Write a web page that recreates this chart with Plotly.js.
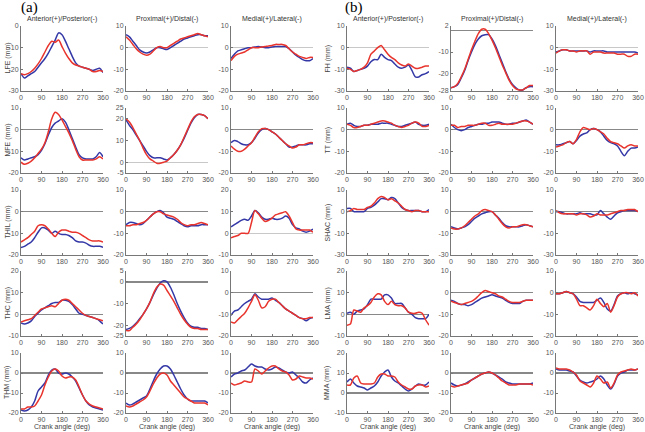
<!DOCTYPE html>
<html><head><meta charset="utf-8">
<script src="https://cdn.plot.ly/plotly-3.0.1.min.js"></script>
<style>html,body{margin:0;padding:0;background:#fff}#chart{width:645px;height:432px}</style>
</head><body><div id="chart"></div>
<script>
const angle = [0,15,30,45,60,75,90,105,120,135,150,165,180,195,210,225,240,255,270,285,300,315,330,345,360];
const xTicks = [0,90,180,270,360];
const dirTitles = ["Anterior(+)/Posterior(-)","Proximal(+)/Distal(-)","Medial(+)/Lateral(-)"];
const rowLabelsA = ["LFE (mm)","MFE (mm)","THIL (mm)","THC (mm)","THM (mm)"];
const rowLabelsB = ["FH (mm)","TT (mm)","SHAC (mm)","LMA (mm)","MMA (mm)"];
const xTitle = "Crank angle (deg)";

// (a) LFE
const LFE_AP_blue = [-22,-24,-23,-22,-21,-19,-17,-15,-12.5,-9.5,-6.5,-3.2,-4,-7,-10.5,-14,-17,-18.5,-19,-19.5,-20,-20.5,-20,-19.5,-21.5];
const LFE_AP_red  = [-22,-22.5,-22,-21,-19.5,-17.5,-15,-12,-9,-7,-7.5,-6.5,-9.5,-12.5,-15,-17,-18,-18.5,-19,-19.5,-20,-21,-21,-20.5,-21];
const LFE_PD_blue = [6,5,3,1,-1,-2,-2.5,-2,-1,0,0,-0.5,-0.8,0,1,2,3,4,4.5,5,5.5,6,6,5.5,5.5];
const LFE_PD_red  = [5,3.5,1.5,-0.5,-2,-3,-3.5,-3,-1.5,0,0.5,0,0,1,2,3,4,4.5,5,5.5,6,6.5,6,5.5,5];
const LFE_ML_blue = [-5,-3,-1.5,-1,-0.5,0,0,0.3,0.5,0.3,0,0,0.3,0.5,0.5,0.5,0.5,-0.5,-2,-3.5,-4.5,-5.5,-6,-6,-5];
const LFE_ML_red  = [-6,-4,-3,-2.5,-2,-1,0,0,0,0.3,0.5,0.8,1,1.5,1.5,1.5,1,-0.5,-2,-3,-4,-4.5,-5,-4.5,-4.5];
// (a) MFE
const MFE_AP_blue = [-13,-14,-13.5,-13,-12.5,-11.5,-9.5,-6.5,-2.5,1,3,4,5,3.5,0,-4,-8,-11.5,-13,-13.5,-13.5,-13.5,-12.5,-10.5,-12.5];
const MFE_AP_red  = [-15,-16,-15.5,-14.5,-13,-11,-9,-6,-1,5,8,7,4.5,1.5,-1.5,-5,-9,-12.5,-14,-14,-14,-14,-13.5,-12.5,-13.5];
const MFE_PD_blue = [19.5,17,15,12.5,10,7.5,5,3,2,2,2,1.5,1,2,3.5,5.5,8,11,14.5,18,20.5,22,22,21.5,20];
const MFE_PD_red  = [20,18.5,16,13,10,6.5,3.5,1.5,0.5,-0.5,-0.5,0,0.5,2,3.5,5.5,8,11.5,15,18.5,21,22,22,21.5,20];
const MFE_ML_blue = [-6,-5,-5.5,-6.5,-7,-7,-6,-4,-1.5,0,0.5,0,-1,-2,-3.5,-5,-6.5,-8,-8,-7.5,-7,-7,-7,-6.5,-6.5];
const MFE_ML_red  = [-7.5,-9,-10,-10,-9,-7.5,-6,-3.5,-1,0.5,0.5,0,-1,-2,-3.5,-5,-6.5,-7.5,-8.5,-8,-7,-7,-6.5,-6,-6];
// (a) THIL
const THIL_AP_blue = [-16.5,-16,-15,-14,-12,-9.5,-7.5,-7.5,-8.5,-10,-9,-10,-10.5,-10.5,-11,-12,-13.5,-14,-14,-14.5,-15.5,-16,-16,-16,-16.5];
const THIL_AP_red  = [-14,-13,-12,-10.5,-9,-6.5,-6,-6.5,-8,-10,-11.5,-9.5,-8.5,-8.5,-9,-9.5,-9.5,-10,-11,-12,-13,-13.5,-13.5,-13.5,-14];
const THIL_PD_blue = [-6,-5,-5,-5.5,-6,-5.5,-4,-2.5,-1,0,0.5,-0.5,-2.5,-3,-3.5,-4.5,-5.5,-6.5,-7,-6.5,-6.5,-6.5,-6,-6,-6];
const THIL_PD_red  = [-6.5,-6.5,-6,-6,-5.5,-5,-4,-2.5,-1,0,0,-1,-1.5,-2,-2.5,-3.5,-5,-6,-6.5,-6,-6,-5.5,-5,-5.5,-6];
const THIL_ML_blue = [3,4,5,6,6.5,6,8,10.5,9.5,7.5,6.5,6.5,7,6.5,6.5,7,8,7,4,2.5,2,1,0.5,1,2];
const THIL_ML_red  = [-2,-1.5,-1,0,0,0,5,10.5,9,7,5.5,6,7,8.5,9,9.5,10,8,5,2,1.5,1.5,1.5,1.5,0.5];
// (a) THC
const THC_AP_blue = [-4,-4.5,-4,-3,-1,0.5,2,3,4,5,5.5,5.5,6.5,6.5,6,4.5,2.5,0.5,0,-0.5,-1,-1.5,-2,-3,-4.5];
const THC_AP_red  = [-3.5,-3,-2.5,-2,-0.5,1,2.5,3,3.5,4,3.5,5,6.5,7,6.5,5,3.5,2,0.5,-0.5,-1,-1.5,-2,-2.5,-3];
const THC_PD_blue = [-22,-21.5,-20.5,-19,-17,-15,-12.5,-9.5,-6,-3,-0.5,0.5,0,-2.5,-6,-10,-13.5,-16.5,-19,-20.5,-21,-21,-21.5,-21.5,-22];
const THC_PD_red  = [-22.5,-22.5,-21,-19.5,-17.5,-15,-12.5,-9.5,-5.5,-2.5,-1,-1.5,-4,-6.5,-9,-12,-15,-17.5,-19.5,-21,-21.5,-21.5,-22,-22,-22];
const THC_ML_blue = [-10.5,-8.5,-8,-6.5,-5,-4,-3,-0.5,-2,-3,-3,-3,-2.5,-3.5,-4.5,-6,-7.5,-8.5,-9.5,-10.5,-11.5,-12,-13,-12,-11.5];
const THC_ML_red  = [-13.5,-14,-12.5,-11,-9.5,-7,-4,-1,-3.5,-7,-6.5,-4,-3,-3,-4.5,-6,-7.5,-8.5,-9.5,-10.5,-11.5,-12,-12,-11.5,-11.5];
// (a) THM
const THM_AP_blue = [-18.5,-19,-18.5,-17,-14,-9,-7,-5,-1,1.5,2,0,-0.5,0,-0.5,-2,-4,-7.5,-11,-14,-16,-17,-17.5,-18,-18.5];
const THM_AP_red  = [-18,-18,-17,-17,-16.5,-14,-11,-6,-2,1,2,1,-1.5,-2.5,-2,-2,-3.5,-7,-11,-14,-15.5,-16.5,-17,-17.5,-18];
const THM_PD_blue = [-15,-16,-15.5,-14.5,-13.5,-12.5,-11.5,-8,-4,-0.5,2,3.5,3.5,2,-1,-4.5,-8,-11,-13,-14,-14,-14,-14,-14,-15];
const THM_PD_red  = [-16.5,-17,-16.5,-15.5,-14.5,-13.5,-12,-9,-5.5,-2.5,-0.5,0,-1,-4,-6,-8,-10,-12,-13,-14,-15,-15,-15,-15,-16];
const THM_ML_blue = [-2,-0.5,0,1,1.5,3,4.5,3.5,3,3,2,1.5,2,3,2.5,1.5,0.5,0,0.5,-1,-2.5,-4.5,-5,-3.5,-2.5];
const THM_ML_red  = [-5,-6,-5.5,-5,-4,-4.5,-4.5,2,1,-0.5,1,2.5,3.5,3.5,2,1,0.5,-1,-3.5,-3,-1.5,-2,-2.5,-2.5,-3];
// (b) FH
const FH_AP_blue = [-9,-9.5,-11,-10.5,-10,-9.5,-8.5,-6.5,-5.5,-5.5,-3,-4.5,-5.5,-6,-7.5,-9,-9.5,-9,-8,-10.5,-13.5,-13.5,-12.5,-12,-11];
const FH_AP_red  = [-9.5,-10,-11,-10.5,-10,-9,-7,-3,-1.5,0,1,-1,-3,-4.5,-5.5,-7,-8,-8.5,-7.5,-8.5,-9.5,-9.5,-9,-8.5,-8.5];
const FH_PD_blue = [-26.5,-26,-25,-22,-18.5,-14,-10,-6.5,-4,-2.5,-2,-2,-4,-7,-11,-15,-19,-22.5,-25,-26.5,-27.5,-27.5,-26.5,-26,-26];
const FH_PD_red  = [-26.5,-26,-24.5,-21.5,-18,-13.5,-9,-5,-1.5,0.5,0.5,-1.5,-4.5,-8,-12,-16,-19.5,-23,-25.5,-27,-27.5,-27.5,-26.5,-25.5,-25.5];
const FH_ML_blue = [-2,-1.5,-1,-1,-1.5,-1.5,-1.5,-1.5,-1.5,-1.5,-2,-1.5,-1.5,-1.5,-1.5,-2,-2,-2,-2,-2,-2,-2,-2,-2,-2.5];
const FH_ML_red  = [-2.5,-1.5,-1,-1,-1.5,-1.5,-2,-1.5,-1.5,-1.5,-3,-2,-2,-2,-2.5,-2.5,-2.5,-2.5,-3,-3,-3,-4,-4,-3,-3];
// (b) TT
const TT_AP_blue = [2.5,3,2,1.5,1.5,2,2,2.5,2.5,2.5,3,3,3,2.5,2,1.5,1.5,2,2.5,3,3.5,2.5,2,2,2.5];
const TT_AP_red  = [2.5,2,1,1,1.5,2,2,2.5,3,3.5,4,4,3.5,3,2,1.5,1,1.5,2,3,3.5,3,1.5,1.5,2];
const TT_PD_blue = [2.5,1,0,-0.5,0,1,1.5,2,2.5,2.5,3,3,3.5,3.5,3.5,3,2.5,2.5,3,3,3.5,4,4.5,3.5,2.5];
const TT_PD_red  = [2,2,1,1.5,1.5,2,2,2,2.5,3,3,2,2,2.5,3,2.5,2.5,2.5,2.5,3,3.5,4,4,3.5,2.5];
const TT_ML_blue = [-7,-7,-6.5,-6,-5.5,-6.5,-5,-3,-2,-1.5,0,0.5,0,-1,-3,-5,-6,-6.5,-7.5,-10,-12,-10,-8.5,-8.5,-8];
const TT_ML_red  = [-8,-7.5,-7,-6,-5.5,-6.5,-4.5,-1,1,0.5,0,0.5,0,-1,-2,-4,-5.5,-6,-6.5,-7.5,-8.5,-7.5,-7,-7.5,-7.5];
// (b) SHAC
const SHAC_AP_blue = [1.5,1.5,0,0,0,0,1.5,2,3,4.5,6,6,5.5,6.5,6,4,2,1,0.5,0.5,0.5,0.5,0,0,1];
const SHAC_AP_red  = [0,0.5,1.5,1,1,1,2,2.5,4,6,7,6.5,5.5,6,5,4,2.5,1,0.5,0,0.5,0.5,0,0,0];
const SHAC_PD_blue = [-7,-7.5,-8,-7.5,-7,-6,-4.5,-3,-2,-1,-0.5,0,0,-1.5,-3,-5,-6.5,-7,-7,-7,-7,-6.5,-6,-6.5,-7];
const SHAC_PD_red  = [-7.5,-8,-8,-7.5,-6.5,-5,-3.5,-2,-1,0.5,1,0.5,0,-1.5,-3.5,-5.5,-7,-7.5,-7,-7,-6.5,-6,-6,-6.5,-7];
const SHAC_ML_blue = [0,0,-0.5,-1,-1,-1,-1,-0.5,-1,-1,-1,-1.5,-1.5,0.5,-1,-2.5,-3.5,-2,-0.5,0,0.5,0.5,0.5,0.5,0];
const SHAC_ML_red  = [0.5,-0.5,-1,-1,-1,-1,-1.5,-1,-1,-1.5,-2.5,-2,-1,-1.5,-1.5,-1.5,-1,-0.5,0,0.5,0.5,1,1,1,0];
// (b) LMA
const LMA_AP_blue = [0.5,1,0,1.5,2,2.5,4.5,7,7,7,7,9,9,7.5,5,5,5,3,1,0,-1.5,-2,-2,-2,0];
const LMA_AP_red  = [-5,-4.5,2,1.5,1,3,4,5.5,8,9.5,9,6,4.5,6,4.5,4,4,3,1,0.5,0.5,1,0.5,-2.5,-5];
const LMA_PD_blue = [-3.5,-4,-5,-5.5,-5.5,-6,-5.5,-4.5,-3.5,-2.5,-2,-1.5,-1,-1.5,-2,-2.5,-3.5,-4.5,-5,-5,-5,-4,-3.5,-3.5,-3.5];
const LMA_PD_red  = [-4,-4.5,-5,-5.5,-5,-4.5,-4,-3,-1.5,0,1,0.5,0,-0.5,-1.5,-2,-3,-4,-4.5,-4.5,-4.5,-4,-3.5,-3.5,-3.5];
const LMA_ML_blue = [-0.5,-0.5,0,0.5,0,-0.5,-2,-4,-4.5,-4.5,-4.5,-4.5,-3.5,-2.5,-4.5,-7.5,-8.5,-5.5,-1.5,-0.5,0,-0.5,0,-0.5,-1];
const LMA_ML_red  = [-0.5,-0.5,0,0.5,0,-0.5,-3,-6,-6,-7,-8,-6,-3,-5,-6.5,-5,-9,-6,-2,-0.5,0,0,-0.5,0,-1.5];
// (b) MMA
const MMA_AP_blue = [5.5,7,5,3.5,3,2.5,1.5,2.5,3.5,5.5,8.5,10.5,11.5,8,6,5,3.5,2,1,2,3.5,4.5,4,4,5.5];
const MMA_AP_red  = [4,4,7.5,8.5,5,4.5,4.5,4.5,5,8,9.5,9.5,8.5,8.5,8,5.5,4,3,2,2,3.5,4,4,3,3.5];
const MMA_PD_blue = [-5,-6,-6.5,-6,-5.5,-4.5,-3.5,-2.5,-1.5,-0.5,0,0.5,0,-1,-2,-3,-4.5,-5,-5.5,-5.5,-5.5,-5.5,-5.5,-5.5,-5];
const MMA_PD_red  = [-6.5,-7,-6.5,-6,-5.5,-5,-3.5,-2.5,-1.5,-0.5,0,0.5,0,-1,-2.5,-4,-5,-6,-6,-6,-5.5,-5.5,-5.5,-5.5,-6];
const MMA_ML_blue = [2,1.5,1.5,1.5,1,0.5,-1.5,-3.5,-4.5,-5,-4.5,-4,-3,-1.5,-3,-6,-8,-5.5,-1.5,0,0.5,1.5,1.5,1.5,2];
const MMA_ML_red  = [2.5,2,2,2,1.5,0.5,-1,-4,-5,-6,-7,-5,-1.5,-3,-5,-4.5,-7.5,-5,-1,0.5,1,1.5,2,1.5,2];

const std = [-20,-10,0,10];
const stdLabels = ["-20","-10","0","10"];
const altLabels = ["-30","-10","0","10"];   // bottom label printed as -30 in some (b) panels
const panels = [
  [LFE_AP_blue,LFE_AP_red,[-30,0],[-30,-20,-10,0],'none'],
  [LFE_PD_blue,LFE_PD_red,[-20,10],std,'light'],
  [LFE_ML_blue,LFE_ML_red,[-20,10],std,'light'],
  [FH_AP_blue,FH_AP_red,[-20,10],std,'light',altLabels],
  [FH_PD_blue,FH_PD_red,[-28,2],[-28,-20,-10,2],'dark'],
  [FH_ML_blue,FH_ML_red,[-20,10],std,'light',altLabels],
  [MFE_AP_blue,MFE_AP_red,[-20,10],std,'dark'],
  [MFE_PD_blue,MFE_PD_red,[-5,25],[-5,0,10,20,25],'light'],
  [MFE_ML_blue,MFE_ML_red,[-20,10],std,'dark'],
  [TT_AP_blue,TT_AP_red,[-20,10],std,'dark'],
  [TT_PD_blue,TT_PD_red,[-20,10],std,'dark'],
  [TT_ML_blue,TT_ML_red,[-20,10],std,'dark'],
  [THIL_AP_blue,THIL_AP_red,[-20,10],std,'dark'],
  [THIL_PD_blue,THIL_PD_red,[-20,10],std,'dark'],
  [THIL_ML_blue,THIL_ML_red,[-10,20],[-10,0,10,20],'light'],
  [SHAC_AP_blue,SHAC_AP_red,[-20,10],std,'dark',altLabels],
  [SHAC_PD_blue,SHAC_PD_red,[-20,10],std,'dark',altLabels],
  [SHAC_ML_blue,SHAC_ML_red,[-20,10],std,'dark',altLabels],
  [THC_AP_blue,THC_AP_red,[-10,20],[-10,0,10,20],'dark'],
  [THC_PD_blue,THC_PD_red,[-25,5],[-25,-20,-10,0,5],'dark'],
  [THC_ML_blue,THC_ML_red,[-20,10],std,'dark'],
  [LMA_AP_blue,LMA_AP_red,[-10,20],[-10,0,10,20],'dark'],
  [LMA_PD_blue,LMA_PD_red,[-20,10],std,'dark'],
  [LMA_ML_blue,LMA_ML_red,[-20,10],std,'dark'],
  [THM_AP_blue,THM_AP_red,[-20,10],std,'dark'],
  [THM_PD_blue,THM_PD_red,[-20,10],std,'dark'],
  [THM_ML_blue,THM_ML_red,[-20,10],std,'dark'],
  [MMA_AP_blue,MMA_AP_red,[-10,20],[-10,0,10,20],'dark'],
  [MMA_PD_blue,MMA_PD_red,[-20,10],std,'dark'],
  [MMA_ML_blue,MMA_ML_red,[-20,10],std,'dark']
];

const W = 645, H = 432;
const colLeft = [21,126,231,347,451,556];
const pw = 82;
const rowTop = [26,108,190,271,353];
const rowH = [65,65,65,65,60];
const BLUE = '#3438a6', RED = '#e8342c';
const tickFont = {family:'Liberation Sans, Arial, sans-serif', size:7, color:'#555'};

const traces = [];
const layout = {width:W,height:H,margin:{l:0,r:0,t:0,b:0},paper_bgcolor:'#fff',plot_bgcolor:'#fff',showlegend:false,annotations:[]};

panels.forEach((p,i)=>{
  const k = i+1, r = Math.floor(i/6), c = i%6;
  const xs = k===1?'':String(k);
  const x0 = colLeft[c]/W, x1 = (colLeft[c]+pw)/W;
  const y1 = 1 - rowTop[r]/H, y0 = 1 - (rowTop[r]+rowH[r])/H;
  traces.push({x:angle,y:p[0],xaxis:'x'+xs,yaxis:'y'+xs,mode:'lines',line:{color:BLUE,width:1.5,shape:'spline',smoothing:0.8},hoverinfo:'skip'});
  traces.push({x:angle,y:p[1],xaxis:'x'+xs,yaxis:'y'+xs,mode:'lines',line:{color:RED,width:1.5,shape:'spline',smoothing:0.8},hoverinfo:'skip'});
  layout['xaxis'+xs] = {domain:[x0,x1],anchor:'y'+xs,range:[0,360],tickvals:xTicks,ticktext:xTicks.map(String),
    showline:true,linecolor:'#777',linewidth:1,ticks:'inside',ticklen:2,tickcolor:'#777',showgrid:false,zeroline:false,
    tickfont:tickFont,fixedrange:true};
  const z = p[4];
  layout['yaxis'+xs] = {domain:[y0,y1],anchor:'x'+xs,range:p[2],tickvals:p[3],ticktext:p[5]||p[3].map(String),
    showline:true,linecolor:'#777',linewidth:1,ticks:'inside',ticklen:2,tickcolor:'#777',showgrid:false,
    zeroline:z!=='none',zerolinecolor:z==='dark'?'#888':'#c8c8c8',zerolinewidth:z==='dark'?1.6:1,
    tickfont:tickFont,fixedrange:true};
  if (r===0) layout.annotations.push({xref:'paper',yref:'paper',x:(x0+x1)/2,y:1-19/H,text:dirTitles[c%3],showarrow:false,
    font:{family:'Liberation Sans, Arial, sans-serif',size:7,color:'#333'},xanchor:'center',yanchor:'middle'});
  if (r===4) layout.annotations.push({xref:'paper',yref:'paper',x:(x0+x1)/2,y:0,text:xTitle,showarrow:false,
    font:{family:'Liberation Sans, Arial, sans-serif',size:7,color:'#444'},xanchor:'center',yanchor:'bottom',borderpad:0});
  if (c===0 || c===3) layout.annotations.push({xref:'paper',yref:'paper',x:(c===0?7:327)/W,y:(y0+y1)/2,
    text:(c===0?rowLabelsA:rowLabelsB)[r],textangle:-90,showarrow:false,
    font:{family:'Liberation Sans, Arial, sans-serif',size:7,color:'#444'},xanchor:'center',yanchor:'middle'});
});
layout.annotations.push({xref:'paper',yref:'paper',x:29/W,y:1-8/H,text:'(a)',showarrow:false,font:{family:'Liberation Serif, Times New Roman, serif',size:15,color:'#000'},xanchor:'center',yanchor:'middle'});
layout.annotations.push({xref:'paper',yref:'paper',x:354/W,y:1-8/H,text:'(b)',showarrow:false,font:{family:'Liberation Serif, Times New Roman, serif',size:15,color:'#000'},xanchor:'center',yanchor:'middle'});

Plotly.newPlot('chart',traces,layout,{staticPlot:true,displayModeBar:false});
</script></body></html>
